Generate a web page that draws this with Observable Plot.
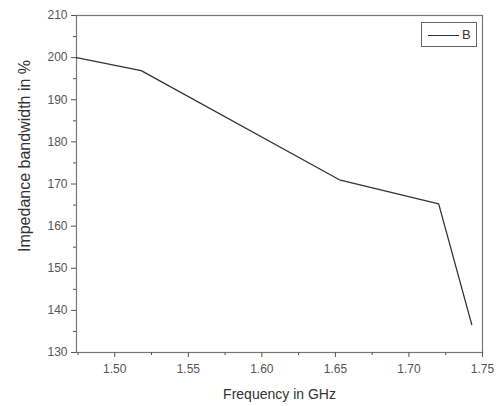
<!DOCTYPE html>
<html>
<head>
<meta charset="utf-8">
<script src="https://cdn.jsdelivr.net/npm/d3@7"></script>
<script src="https://cdn.jsdelivr.net/npm/@observablehq/plot@0.6"></script>
<style>
  html, body { margin: 0; padding: 0; background: #fff; }
  #wrap { position: relative; width: 498px; height: 406px; font-family: Arial, "Liberation Sans", sans-serif; }
  #legend { position: absolute; left: 421px; top: 22px; width: 56px; height: 25px; border: 1px solid #666; box-sizing: border-box; background: #fff; }
  #legend .ln { position: absolute; left: 6px; top: 12px; width: 31px; height: 0; border-top: 1.2px solid #333; }
  #legend .tx { position: absolute; left: 40px; top: 4px; font-size: 13px; color: #333; }
</style>
</head>
<body>
<div id="wrap"><div id="legend"><div class="ln"></div><div class="tx"></div></div></div>
<script>
const seriesName = "B";
const freq = [1.474, 1.518, 1.6527, 1.7202, 1.7427];
const bandwidth = [200, 196.9, 171.0, 165.3, 136.6];
const xTicks = [1.50, 1.55, 1.60, 1.65, 1.70, 1.75];
const xMinor = [1.475, 1.525, 1.575, 1.625, 1.675, 1.725];
const yTicks = [130, 140, 150, 160, 170, 180, 190, 200, 210];
const yMinor = [135, 145, 155, 165, 175, 185, 195, 205];
const xTitle = "Frequency in GHz";
const yTitle = "Impedance bandwidth in %";

const data = freq.map((f, i) => ({f, b: bandwidth[i]}));
const axisColor = "#555";

const chart = Plot.plot({
  width: 498,
  height: 406,
  marginLeft: 76,
  marginRight: 16,
  marginTop: 15,
  marginBottom: 54,
  style: {fontFamily: "Arial, 'Liberation Sans', sans-serif", fontSize: "12px", color: "#444", background: "#fff"},
  x: {domain: [1.474, 1.75]},
  y: {domain: [130, 210]},
  marks: [
    Plot.frame({stroke: "#777", strokeWidth: 1.2}),
    Plot.axisX(xTicks, {tickSize: 5, tickPadding: 7, tickFormat: d3.format(".2f"), stroke: axisColor, fill: "#555", fontSize: 12,
      label: xTitle, labelAnchor: "center", labelArrow: "none", labelOffset: 46}),
    Plot.axisX(xMinor, {tickSize: 3, text: null, stroke: axisColor, label: null}),
    Plot.axisY(yTicks, {tickSize: 5, tickPadding: 4, stroke: axisColor, fill: "#555", fontSize: 12,
      label: yTitle, labelAnchor: "center", labelArrow: "none", labelOffset: 58}),
    Plot.axisY(yMinor, {tickSize: 3, text: null, stroke: axisColor, label: null}),
    Plot.line(data, {x: "f", y: "b", stroke: "#333", strokeWidth: 1.3})
  ]
});
chart.style.position = "absolute";
chart.style.left = "0";
chart.style.top = "0";
const wrap = document.getElementById("wrap");
wrap.insertBefore(chart, wrap.firstChild);
document.querySelector("#legend .tx").textContent = seriesName;
// axis title styling
chart.querySelectorAll("[aria-label='x-axis label'] text").forEach(t => {
  t.setAttribute("font-size", "14");
  t.setAttribute("fill", "#333");
});
chart.querySelectorAll("[aria-label='y-axis label'] text").forEach(t => {
  t.setAttribute("font-size", "16");
  t.setAttribute("fill", "#333");
  t.setAttribute("dx", "28");
});
</script>
</body>
</html>
